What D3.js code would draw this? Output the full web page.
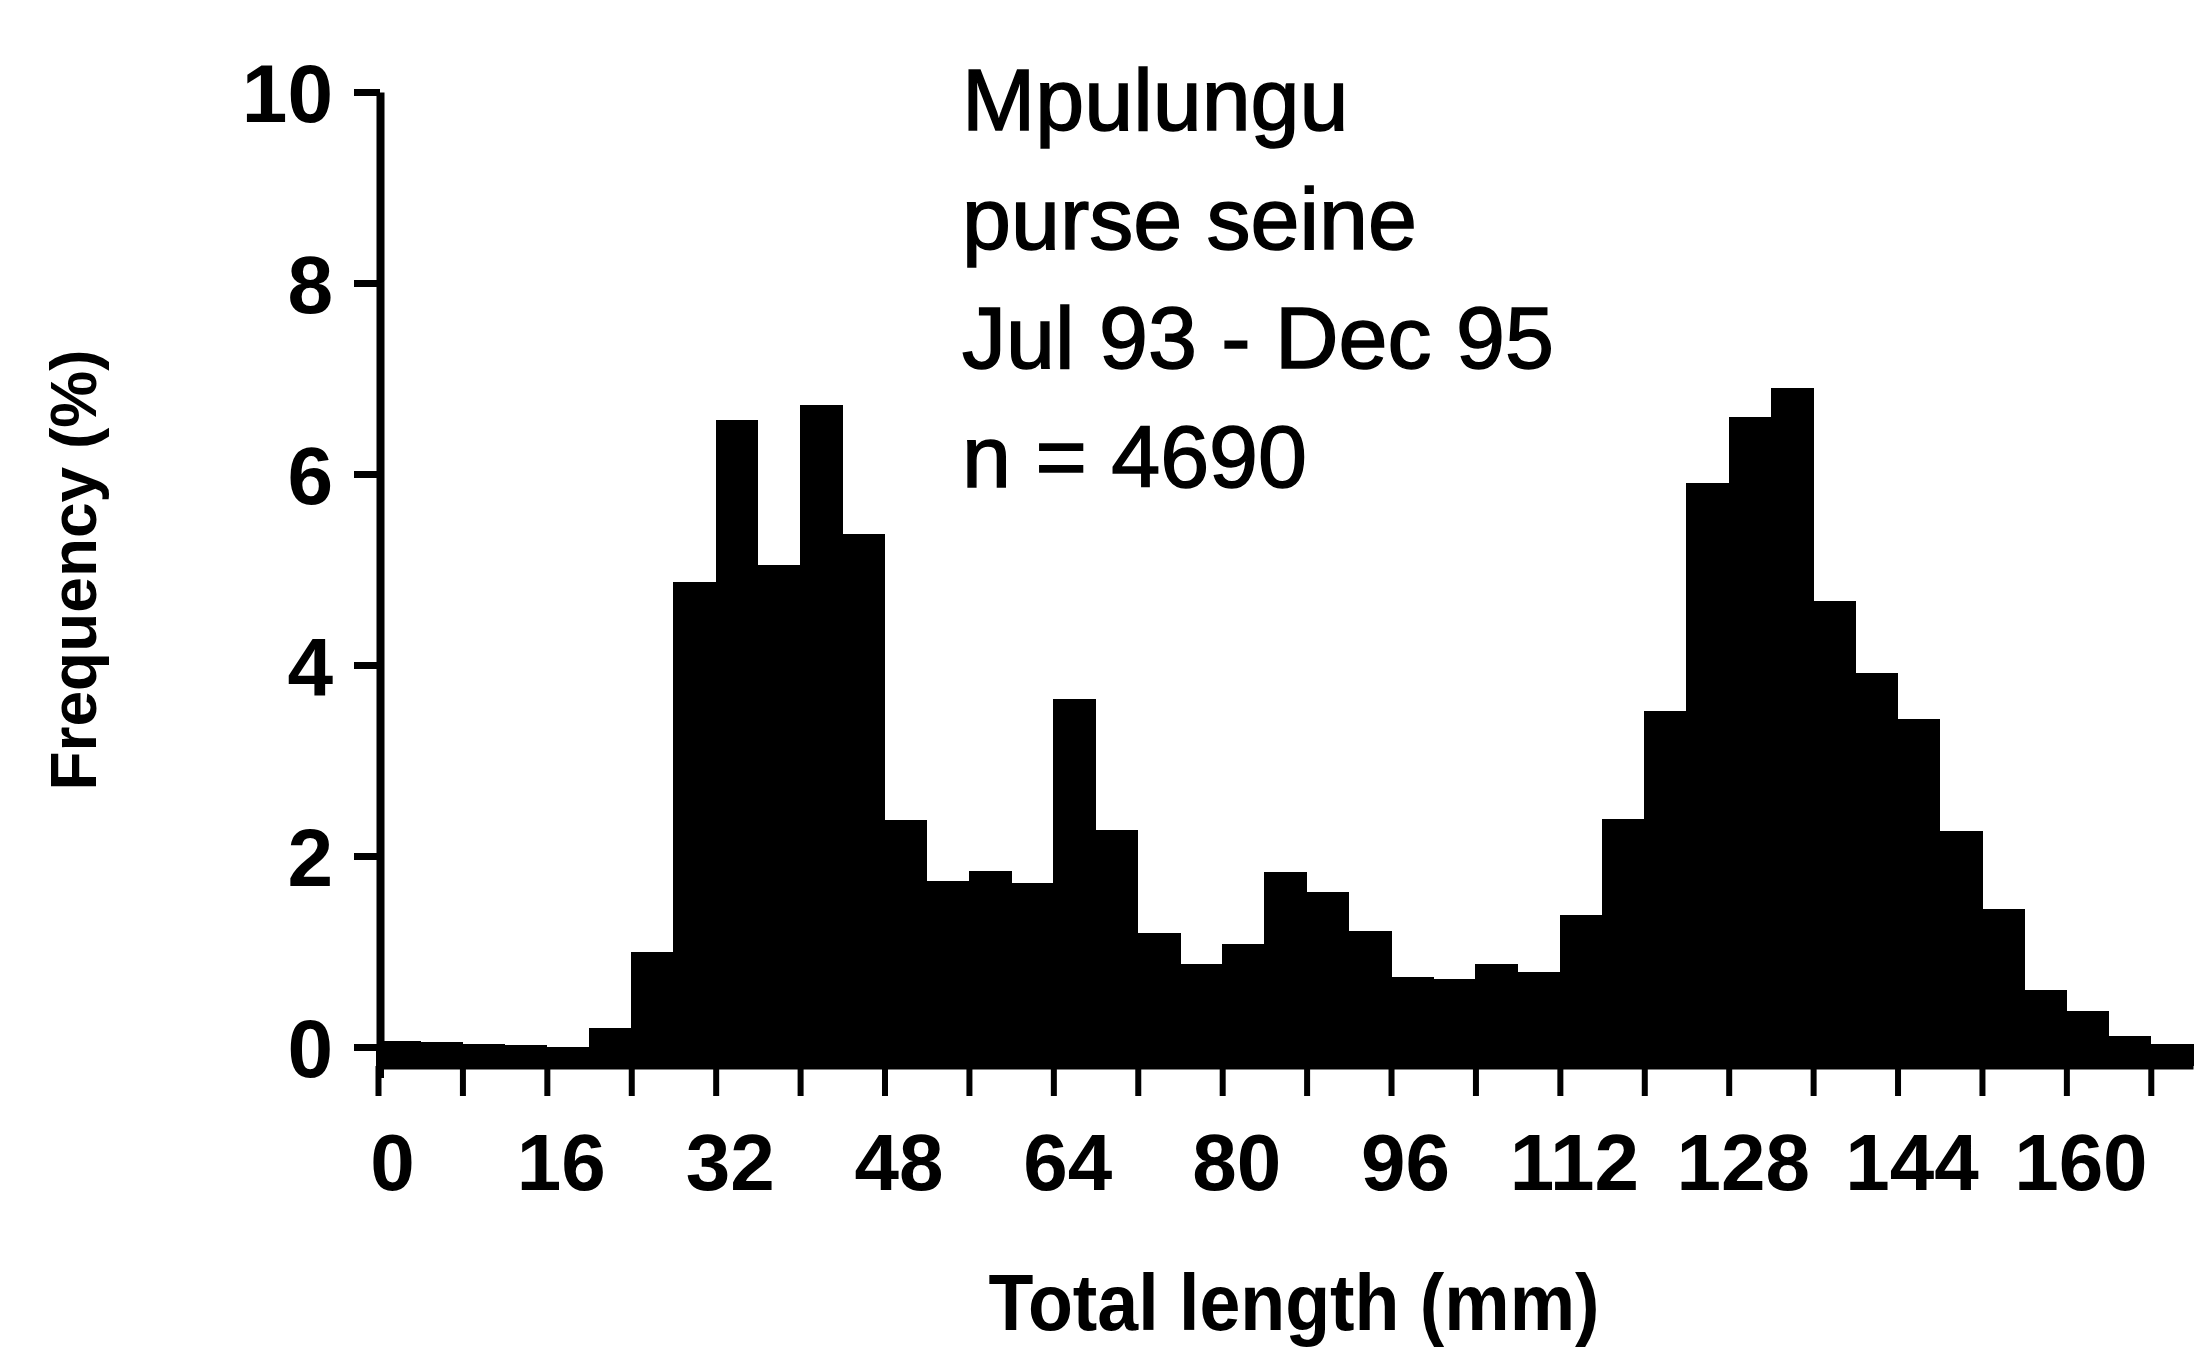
<!DOCTYPE html>
<html>
<head>
<meta charset="utf-8">
<script src="https://cdn.jsdelivr.net/npm/d3@7"></script>
<style>
  html, body { margin: 0; padding: 0; background: #fff; }
  svg { display: block; }
  text { font-family: "Liberation Sans", Arial, Helvetica, sans-serif; fill: #000; }
</style>
</head>
<body>
<script>
// lower edge of each 4 mm length class
var lengthBins = [0, 4, 8, 12, 16, 20, 24, 28, 32, 36, 40, 44, 48, 52, 56, 60, 64, 68,
  72, 76, 80, 84, 88, 92, 96, 100, 104, 108, 112, 116, 120, 124, 128, 132, 136, 140,
  144, 148, 152, 156, 160, 164, 168];

// frequency (%) per length class
var frequency = [0.06, 0.05, 0.03, 0.02, 0.0, 0.2, 1.0, 4.87, 6.57, 5.05, 6.72, 5.37,
  2.38, 1.74, 1.84, 1.72, 3.64, 2.27, 1.19, 0.87, 1.08, 1.83, 1.62, 1.21, 0.73, 0.71,
  0.87, 0.79, 1.38, 2.39, 3.52, 5.91, 6.6, 6.9, 4.67, 3.92, 3.43, 2.26, 1.44, 0.6,
  0.38, 0.11, 0.03];

var xTicks = [0, 8, 16, 24, 32, 40, 48, 56, 64, 72, 80, 88, 96, 104, 112, 120, 128,
  136, 144, 152, 160, 168];
var xLabels = [0, 16, 32, 48, 64, 80, 96, 112, 128, 144, 160];
var yTicks = [0, 2, 4, 6, 8, 10];

var titleLines = ['Mpulungu', 'purse seine', 'Jul 93 - Dec 95', 'n = 4690'];
var xTitle = 'Total length (mm)';
var yTitle = 'Frequency (%)';

var width = 2200;
var height = 1359;
var binWidth = 4;
var yBase = 1066; // where the bars stand, a bit under the zero line

var svg = d3.select('body').append('svg')
  .attr('width', width)
  .attr('height', height);

svg.append('rect').attr('width', width).attr('height', height).attr('fill', '#fff');

var x = d3.scaleLinear().domain([0, 172]).range([378, 2193]);
var y = d3.scaleLinear().domain([0, 10]).range([1047, 92]);

//histogram bars
svg.append('g')
  .selectAll('rect')
  .data(lengthBins)
  .join('rect')
  .attr('x', (d) => x(d))
  .attr('width', (d) => x(d + binWidth) - x(d) + 0.6)
  .attr('y', (d, i) => y(frequency[i]))
  .attr('height', (d, i) => yBase - y(frequency[i]))
  .attr('fill', '#000')
  .attr('shape-rendering', 'crispEdges');

//x axis, ticks every 8 mm, labels every 16 mm
var xAxis = d3.axisBottom(x)
  .tickValues(xTicks)
  .tickSize(30)
  .tickSizeOuter(0)
  .tickFormat((d) => xLabels.indexOf(d) >= 0 ? d : '');

var gx = svg.append('g')
  .attr('transform', 'translate(0,' + yBase + ')')
  .call(xAxis);
gx.select('.domain').attr('stroke', '#000').attr('stroke-width', 6);
gx.selectAll('.tick line').attr('stroke', '#000').attr('stroke-width', 6);
gx.selectAll('.tick text')
  .attr('y', 124)
  .attr('dy', 0)
  .attr('dx', 14)
  .attr('fill', '#000')
  .style('font-size', '80px')
  .style('font-weight', 'bold')
  .style('font-family', '"Liberation Sans", Arial, sans-serif');

//y axis
var yAxis = d3.axisLeft(y)
  .tickValues(yTicks)
  .tickSize(26)
  .tickSizeOuter(0);

var gy = svg.append('g')
  .attr('transform', 'translate(380,0)')
  .call(yAxis);
gy.select('.domain').attr('stroke', '#000').attr('stroke-width', 8);
gy.selectAll('.tick line').attr('stroke', '#000').attr('stroke-width', 7);
gy.selectAll('.tick text')
  .attr('x', -47)
  .attr('dy', '0.36em')
  .attr('fill', '#000')
  .style('font-size', '82px')
  .style('font-weight', 'bold')
  .style('font-family', '"Liberation Sans", Arial, sans-serif');

// axis line runs on down to the bar baseline
gy.append('line')
  .attr('x1', 0).attr('x2', 0)
  .attr('y1', y(0)).attr('y2', yBase + 12)
  .attr('stroke', '#000')
  .attr('stroke-width', 8);

//axis titles
svg.append('text')
  .attr('x', 1294)
  .attr('y', 1330)
  .attr('text-anchor', 'middle')
  .attr('textLength', 611)
  .attr('lengthAdjust', 'spacingAndGlyphs')
  .style('font-size', '80px')
  .style('font-weight', 'bold')
  .text(xTitle);

svg.append('text')
  .attr('transform', 'translate(96,570) rotate(-90)')
  .attr('text-anchor', 'middle')
  .style('font-size', '64px')
  .style('font-weight', 'bold')
  .text(yTitle);

//annotation block
svg.append('g')
  .selectAll('text')
  .data(titleLines)
  .join('text')
  .attr('x', 962)
  .attr('y', (d, i) => 130 + i * 119)
  .style('font-size', '88px')
  .style('stroke', '#000')
  .style('stroke-width', 1.5)
  .text((d) => d);
</script>
</body>
</html>
